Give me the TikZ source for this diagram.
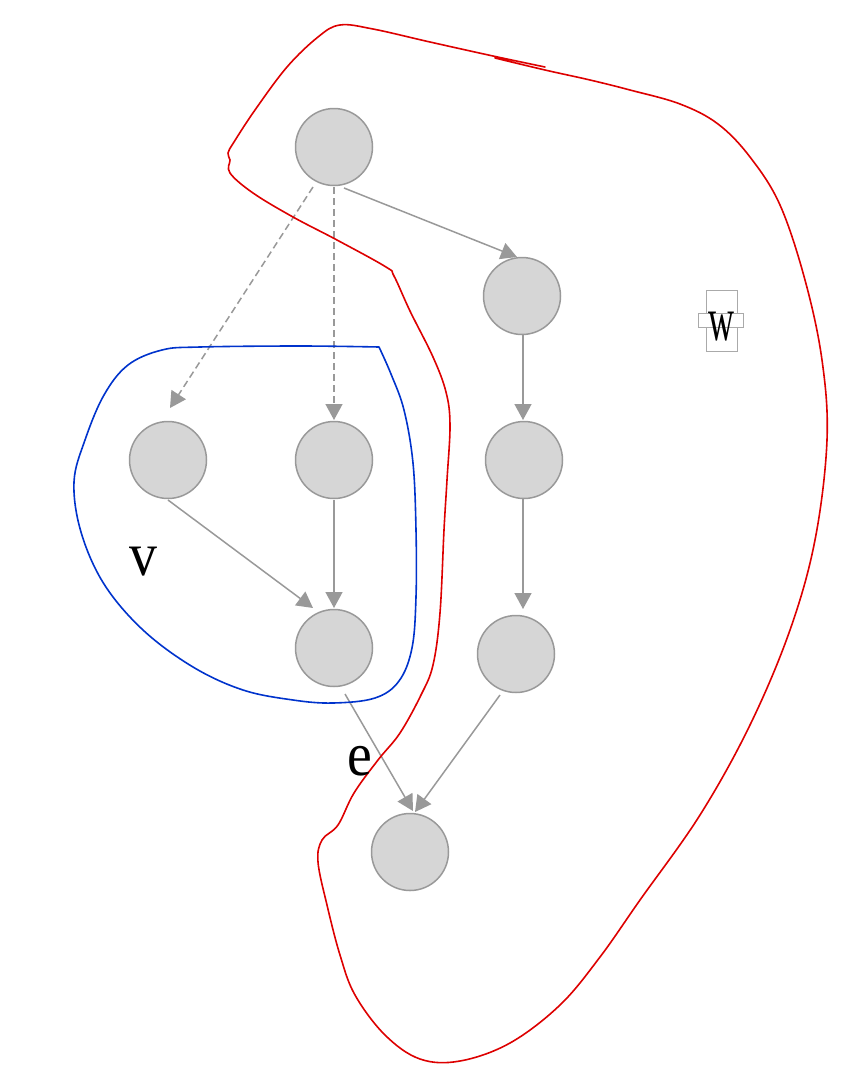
\documentclass[tikz,border=0pt]{standalone}
\usepackage{fontspec}
\setmainfont{Liberation Serif}
\usetikzlibrary{arrows.meta,calc}
\definecolor{nodefill}{HTML}{D6D6D6}
\definecolor{nodeline}{HTML}{999999}
\definecolor{edgecol}{HTML}{999999}
\definecolor{redcol}{HTML}{DD0000}
\definecolor{bluecol}{HTML}{0033CC}
\definecolor{boxcol}{HTML}{AAAAAA}
\tikzset{
  vert/.style={circle,draw=nodeline,fill=nodefill,line width=1.5pt,minimum size=77pt,inner sep=0pt},
  edge/.style={draw=edgecol,line width=1.5pt,-{Triangle[length=16pt,width=17pt]}},
  dashededge/.style={edge,dash pattern=on 7pt off 4pt},
  redline/.style={draw=redcol,line width=1.6pt,line join=round,line cap=round},
  blueline/.style={draw=bluecol,line width=1.6pt,line join=round,line cap=round},
  lbl/.style={inner sep=0pt,font=\fontsize{62}{62}\selectfont},
  selbox/.style={draw=boxcol,line width=0.9pt,inner sep=0pt}
}
\begin{document}
\begin{tikzpicture}[x=1pt,y=-1pt]
\useasboundingbox (0,0) rectangle (850,1088);
% nodes
\node[vert] (A) at (334,147) {};
\node[vert] (B) at (522,296) {};
\node[vert] (C) at (168,460) {};
\node[vert] (D) at (334,460) {};
\node[vert] (E) at (524,460) {};
\node[vert] (F) at (334,648) {};
\node[vert] (G) at (516,654) {};
\node[vert] (H) at (410,852) {};
% edges
\draw[dashededge] ($(A)+(-21,40)$) -- ($(C)+(2,-52)$);
\draw[dashededge] ($(A)+(0,40)$) -- ($(D)+(0,-40)$);
\draw[edge] ($(A)+(10,41)$) -- ($(B)+(-5,-39)$);
\draw[edge] ($(B)+(1,39)$) -- ($(E)+(-1,-40)$);
\draw[edge] ($(E)+(-1,39)$) -- ($(G)+(7,-45)$);
\draw[edge] ($(C)+(0,40)$) -- ($(F)+(-21,-40)$);
\draw[edge] ($(D)+(0,40)$) -- ($(F)+(0,-40)$);
\draw[edge] ($(F)+(11,46)$) -- ($(H)+(3,-41)$);
\draw[edge] ($(G)+(-16,41)$) -- ($(H)+(5,-40)$);
% blue region
\draw[blueline] plot[smooth,tension=0.6] coordinates {(379,347) (300,346) (200,347) (162,350) (128,365) (104,395) (85,440) (74,482) (81,532) (104,584) (143,630) (193,667) (243,690) (293,700) (333,703) (375,698) (399,681) (412,648) (416,597) (416,530) (413,463) (404,410) (391,374) (379,347)};
% red region
\draw[redline] plot[smooth,tension=0.6] coordinates {(545,67) (493,56) (430,42) (373,29) (340,25) (318,37) (287,67) (255,110) (234,142) (228,153) (230,160) (230,173) (253,193) (293,217) (337,240) (386,267) (394,276) (410,311) (433,357) (446,392) (450,425) (447,480) (444,530) (440,613) (433,665) (421,695) (400,733) (378,760) (354,793) (338,825) (322,840) (318,862) (327,905) (340,955) (355,995) (385,1035) (420,1059) (460,1061) (510,1043) (560,1005) (600,957) (640,900) (700,815) (750,725) (790,630) (815,540) (827,440) (822,360) (805,280) (780,205) (750,157) (718,124) (680,104) (630,90) (590,80) (545,70) (495,58)};
% labels
\node[lbl,xscale=0.9] (v) at (143,562) {v};
\node[lbl,xscale=0.9] (e) at (360,761) {e};
\node[selbox,fill=white,minimum width=31pt,minimum height=61pt] (wbox) at (721.5,320.5) {};
\node[selbox,fill=white,minimum width=45pt,minimum height=14pt] (wbar) at (720.5,320) {};
\node[lbl,xscale=0.58] (w) at (721,327) {w};
\end{tikzpicture}
\end{document}
